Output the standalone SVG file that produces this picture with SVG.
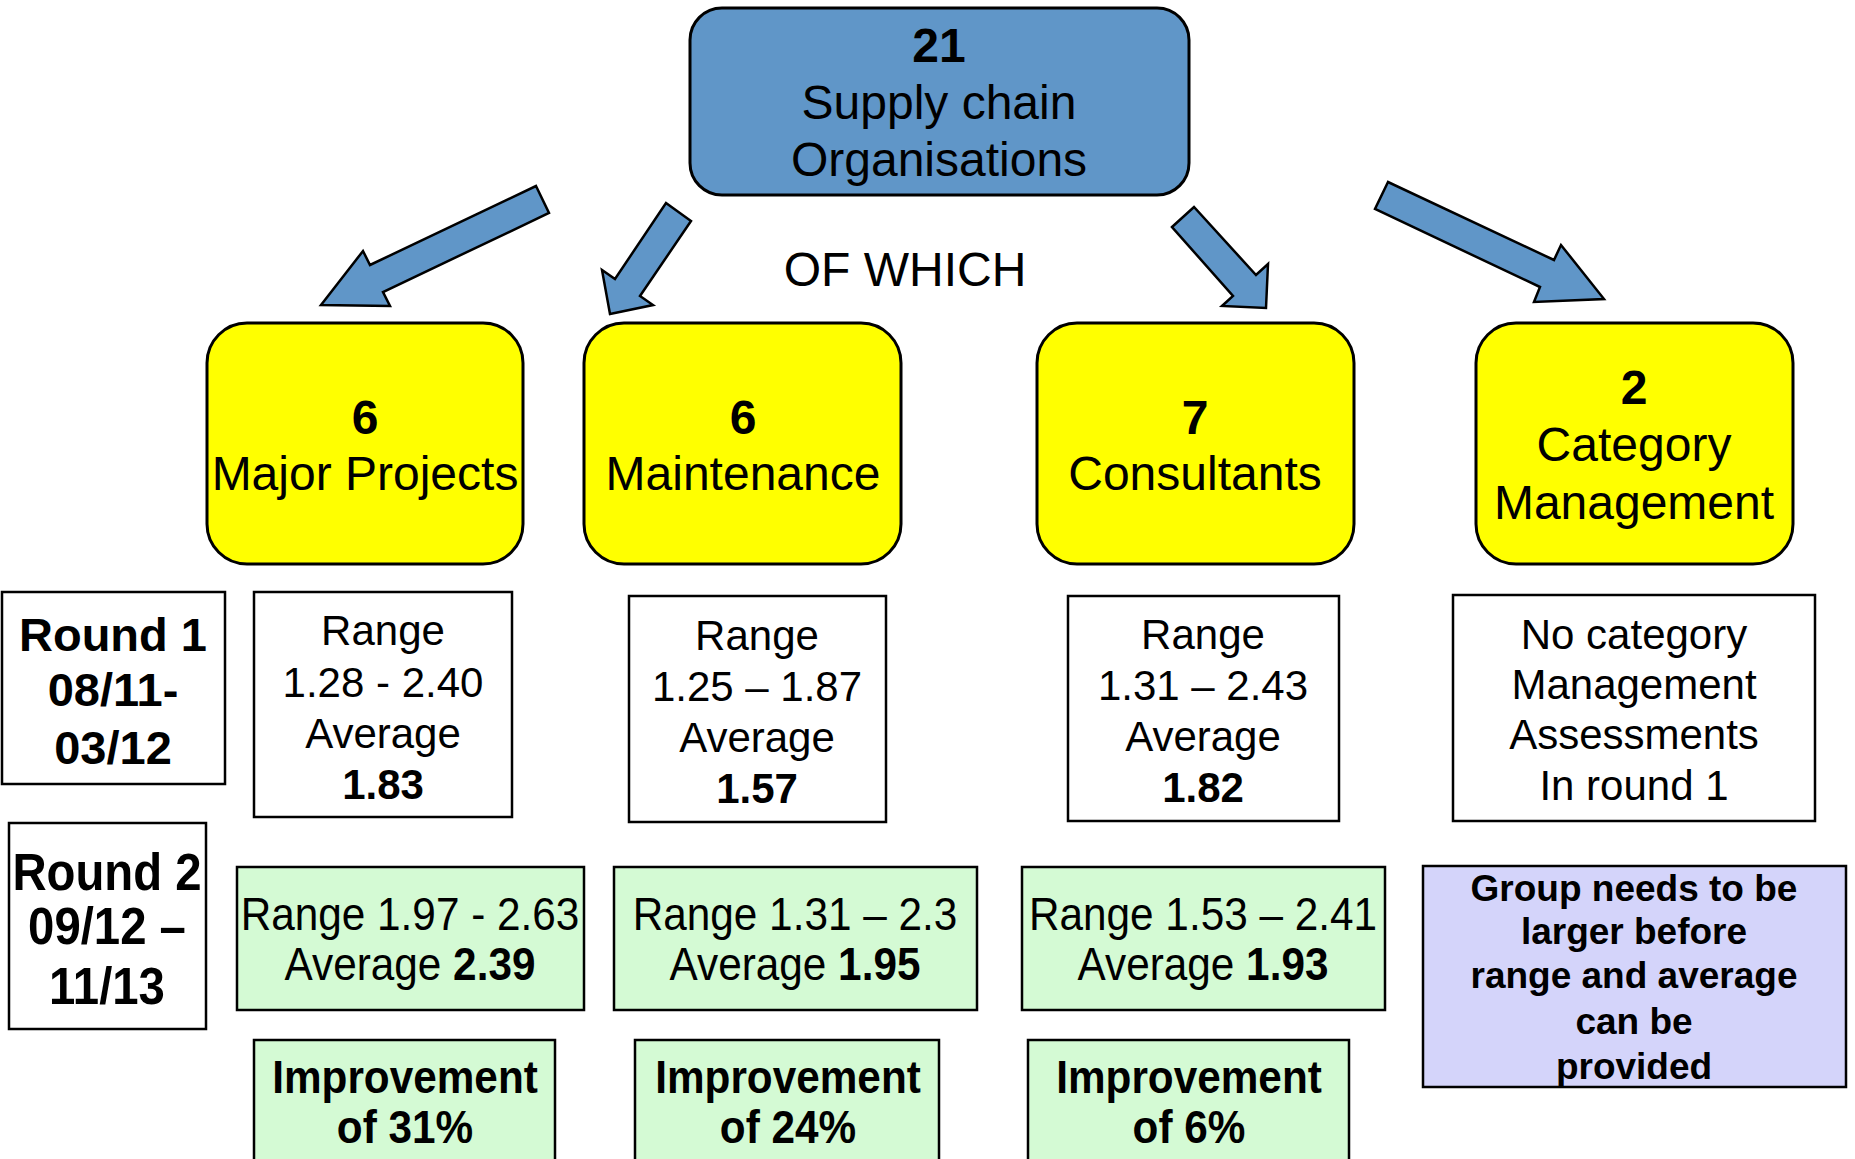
<svg xmlns="http://www.w3.org/2000/svg" width="1855" height="1159" viewBox="0 0 1855 1159">
  <style>
    text { font-family: "Liberation Sans", Arial, sans-serif; fill: #000; text-anchor: middle; }
    .b { font-weight: bold; }
    .big { font-size: 48px; }
    .mid { font-size: 42px; }
    .cond { font-size: 46px; }
    .note { font-size: 37px; font-weight: bold; }
    .round { font-size: 47px; font-weight: bold; }
    .round2 { font-size: 52px; font-weight: bold; }
    .blue { fill: #6096c8; stroke: #000; stroke-width: 3; }
    .yellow { fill: #ffff00; stroke: #000; stroke-width: 3; }
    .plain { fill: #fff; stroke: #000; stroke-width: 2.5; }
    .green { fill: #d4fad4; stroke: #000; stroke-width: 2.5; }
    .lav { fill: #d4d4fa; stroke: #000; stroke-width: 2.5; }
    .arrow { fill: #6096c8; stroke: #000; stroke-width: 2.5; stroke-linejoin: miter; }
  </style>
  <rect width="1855" height="1159" fill="#fff"/>

  <!-- top node -->
  <g id="node-total">
    <rect class="blue" x="690" y="8" width="499" height="187" rx="32"/>
    <text class="big b" x="939" y="62">21</text>
    <text class="big" x="939" y="119">Supply chain</text>
    <text class="big" x="939" y="176">Organisations</text>
  </g>

  <!-- block arrows from the top node to the groups -->
  <g id="connectors">
    <polygon class="arrow" points="536,186 549,213 383,292 390,306 321,305 363,251 370,265"/>
    <polygon class="arrow" points="666,203 691,221 640,296 653,305 610,314 602,270 615,279"/>
    <polygon class="arrow" points="1172,227 1194,207 1256,275 1268,264 1266,308 1222,306 1233,296"/>
    <polygon class="arrow" points="1388,182 1375,209 1540,287 1534,302 1604,299 1561,245 1554,260"/>
  </g>

  <g id="label-of-which">
    <text class="big" x="905" y="286">OF WHICH</text>
  </g>

  <!-- group nodes -->
  <g id="node-major-projects">
    <rect class="yellow" x="207" y="323" width="316" height="241" rx="40"/>
    <text class="big b" x="365" y="434">6</text>
    <text class="big" x="365" y="490">Major Projects</text>
  </g>
  <g id="node-maintenance">
    <rect class="yellow" x="584" y="323" width="317" height="241" rx="40"/>
    <text class="big b" x="743" y="434">6</text>
    <text class="big" x="743" y="490">Maintenance</text>
  </g>
  <g id="node-consultants">
    <rect class="yellow" x="1037" y="323" width="317" height="241" rx="40"/>
    <text class="big b" x="1195" y="434">7</text>
    <text class="big" x="1195" y="490">Consultants</text>
  </g>
  <g id="node-category">
    <rect class="yellow" x="1476" y="323" width="317" height="241" rx="40"/>
    <text class="big b" x="1634" y="404">2</text>
    <text class="big" x="1634" y="461">Category</text>
    <text class="big" x="1634" y="519">Management</text>
  </g>

  <!-- round 1 -->
  <g id="round-1">
    <rect class="plain" x="2" y="592" width="223" height="192"/>
    <text class="round" x="113" y="651">Round 1</text>
    <text class="round" x="113" y="706">08/11-</text>
    <text class="round" x="113" y="764">03/12</text>
  </g>
  <g id="r1-major-projects">
    <rect class="plain" x="254" y="592" width="258" height="225"/>
    <text class="mid" x="383" y="645">Range</text>
    <text class="mid" x="383" y="697">1.28 - 2.40</text>
    <text class="mid" x="383" y="748">Average</text>
    <text class="mid b" x="383" y="799">1.83</text>
  </g>
  <g id="r1-maintenance">
    <rect class="plain" x="629" y="596" width="257" height="226"/>
    <text class="mid" x="757" y="650">Range</text>
    <text class="mid" x="757" y="701">1.25 – 1.87</text>
    <text class="mid" x="757" y="752">Average</text>
    <text class="mid b" x="757" y="803">1.57</text>
  </g>
  <g id="r1-consultants">
    <rect class="plain" x="1068" y="596" width="271" height="225"/>
    <text class="mid" x="1203" y="649">Range</text>
    <text class="mid" x="1203" y="700">1.31 – 2.43</text>
    <text class="mid" x="1203" y="751">Average</text>
    <text class="mid b" x="1203" y="802">1.82</text>
  </g>
  <g id="r1-category">
    <rect class="plain" x="1453" y="595" width="362" height="226"/>
    <text class="mid" x="1634" y="649">No category</text>
    <text class="mid" x="1634" y="699">Management</text>
    <text class="mid" x="1634" y="749">Assessments</text>
    <text class="mid" x="1634" y="800">In round 1</text>
  </g>

  <!-- round 2 -->
  <g id="round-2">
    <rect class="plain" x="9" y="823" width="197" height="206"/>
    <text class="round2" transform="translate(107,890) scale(0.91,1)">Round 2</text>
    <text class="round2" transform="translate(107,944) scale(0.91,1)">09/12 –</text>
    <text class="round2" transform="translate(107,1004) scale(0.91,1)">11/13</text>
  </g>
  <g id="r2-major-projects">
    <rect class="green" x="237" y="867" width="347" height="143"/>
    <text class="cond" transform="translate(410,930) scale(0.92,1)">Range 1.97 - 2.63</text>
    <text class="cond" transform="translate(410,980) scale(0.92,1)">Average <tspan class="b">2.39</tspan></text>
  </g>
  <g id="r2-maintenance">
    <rect class="green" x="614" y="867" width="363" height="143"/>
    <text class="cond" transform="translate(795,930) scale(0.92,1)">Range 1.31 – 2.3</text>
    <text class="cond" transform="translate(795,980) scale(0.92,1)">Average <tspan class="b">1.95</tspan></text>
  </g>
  <g id="r2-consultants">
    <rect class="green" x="1022" y="867" width="363" height="143"/>
    <text class="cond" transform="translate(1203,930) scale(0.92,1)">Range 1.53 – 2.41</text>
    <text class="cond" transform="translate(1203,980) scale(0.92,1)">Average <tspan class="b">1.93</tspan></text>
  </g>
  <g id="r2-category">
    <rect class="lav" x="1423" y="866" width="423" height="221"/>
    <text class="note" x="1634" y="901">Group needs to be</text>
    <text class="note" x="1634" y="944">larger before</text>
    <text class="note" x="1634" y="988">range and average</text>
    <text class="note" x="1634" y="1034">can be</text>
    <text class="note" x="1634" y="1079">provided</text>
  </g>

  <!-- improvement -->
  <g id="imp-major-projects">
    <rect class="green" x="254" y="1040" width="301" height="140"/>
    <text class="cond b" transform="translate(405,1093) scale(0.92,1)">Improvement</text>
    <text class="cond b" transform="translate(405,1143) scale(0.92,1)">of 31%</text>
  </g>
  <g id="imp-maintenance">
    <rect class="green" x="635" y="1040" width="304" height="140"/>
    <text class="cond b" transform="translate(788,1093) scale(0.92,1)">Improvement</text>
    <text class="cond b" transform="translate(788,1143) scale(0.92,1)">of 24%</text>
  </g>
  <g id="imp-consultants">
    <rect class="green" x="1028" y="1040" width="321" height="140"/>
    <text class="cond b" transform="translate(1189,1093) scale(0.92,1)">Improvement</text>
    <text class="cond b" transform="translate(1189,1143) scale(0.92,1)">of 6%</text>
  </g>
</svg>
